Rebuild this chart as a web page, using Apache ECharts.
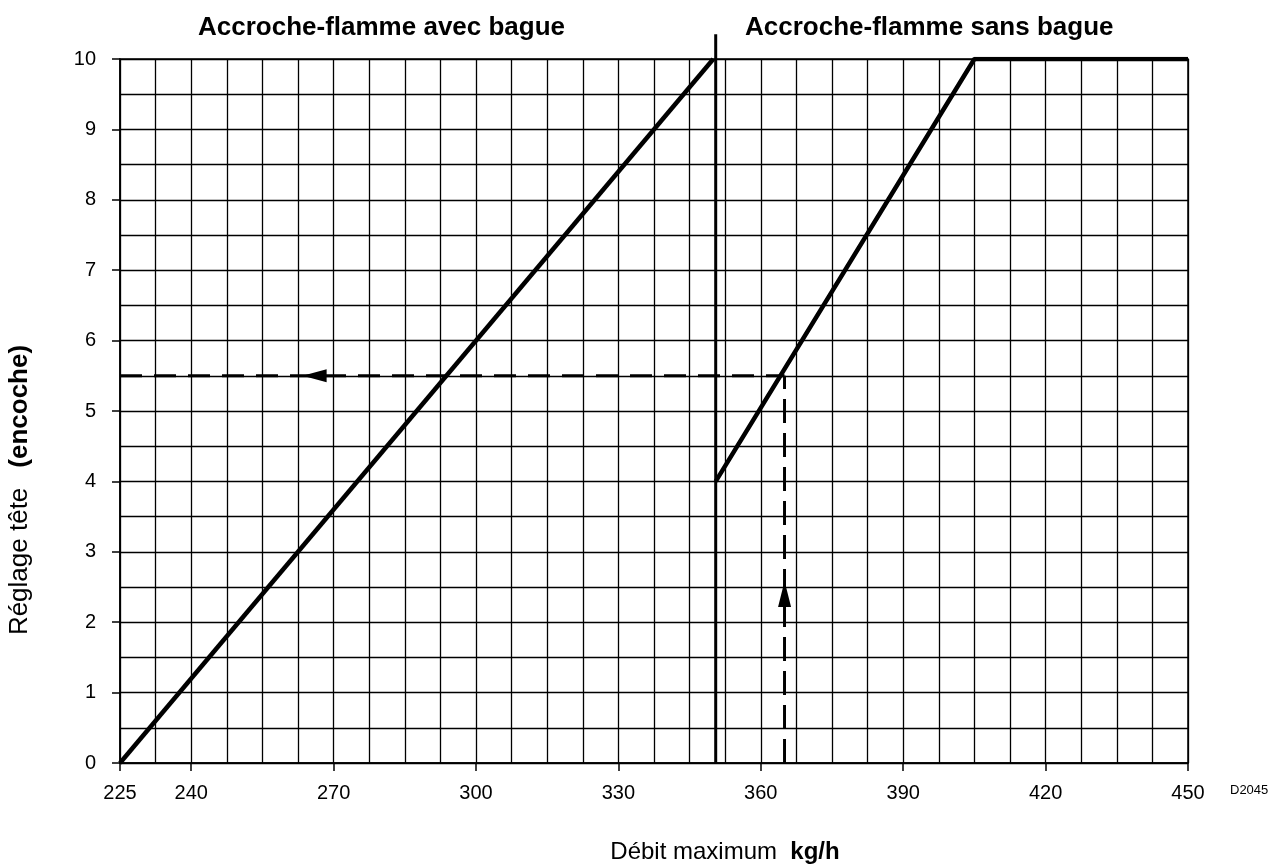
<!DOCTYPE html>
<html>
<head>
<meta charset="utf-8">
<script src="https://cdn.jsdelivr.net/npm/echarts@6/dist/echarts.min.js"></script>
<style>
  html, body { margin: 0; padding: 0; background: #fff; }
  #main { width: 1275px; height: 868px; }
</style>
</head>
<body>
<div id="main"></div>
<script>
var xTicks = [225, 240, 270, 300, 330, 360, 390, 420, 450];
var yTicks = [0, 1, 2, 3, 4, 5, 6, 7, 8, 9, 10];
var avecBague = [[225, 0], [350, 10]];
var sansBague = [[350.5, 4], [405, 10], [450, 10]];
var separateur = [[350.5, 0], [350.5, 10.35]];
var lectureH = [[225, 5.5], [365, 5.5]];
var lectureV = [[365, 0], [365, 5.5]];
var flecheH = [[266, 5.5]];
var flecheV = [[365, 2.4]];

var chart = echarts.init(document.getElementById('main'));

var noir = '#000';
var police = 'Liberation Sans, Arial, sans-serif';

// axe avec graduations + axe invisible pour le quadrillage
var ligneGrille = { show: true, lineStyle: { color: noir, width: 1.3 } };

var option = {
    backgroundColor: '#fff',
    animation: false,
    grid: {
        left: 120, right: 87, top: 59, bottom: 105,
        show: true, borderColor: noir, borderWidth: 1.5
    },
    xAxis: [
        {
            type: 'value', position: 'bottom',
            min: 225, max: 450, interval: 7.5,
            axisLine: { lineStyle: { color: noir, width: 1.5 } },
            axisTick: { customValues: xTicks, length: 8, lineStyle: { color: noir, width: 1.5 } },
            axisLabel: {
                customValues: xTicks, margin: 20, color: noir,
                fontFamily: police, fontSize: 20
            },
            splitLine: { show: false }
        },
        {
            type: 'value', position: 'top',
            min: 225, max: 450, interval: 7.5,
            axisLine: { show: false }, axisTick: { show: false }, axisLabel: { show: false },
            splitLine: ligneGrille
        }
    ],
    yAxis: [
        {
            type: 'value', position: 'left',
            min: 0, max: 10, interval: 0.5,
            axisLine: { show: true, lineStyle: { color: noir, width: 1.5 } },
            axisTick: { show: true, customValues: yTicks, length: 8, lineStyle: { color: noir, width: 1.5 } },
            axisLabel: {
                customValues: yTicks, margin: 24, color: noir,
                fontFamily: police, fontSize: 20
            },
            splitLine: { show: false }
        },
        {
            type: 'value', position: 'right',
            min: 0, max: 10, interval: 0.5,
            axisLine: { show: false }, axisTick: { show: false }, axisLabel: { show: false },
            splitLine: ligneGrille
        }
    ],
    series: [
        {
            name: 'avec bague', type: 'line', data: avecBague,
            symbol: 'none', lineStyle: { color: noir, width: 4.5 }
        },
        {
            name: 'sans bague', type: 'line', data: sansBague,
            symbol: 'none', lineStyle: { color: noir, width: 4.5 }
        },
        {
            name: 'separation', type: 'line', data: separateur, clip: false,
            symbol: 'none', lineStyle: { color: noir, width: 3 }
        },
        {
            name: 'lecture h', type: 'line', data: lectureH,
            symbol: 'none', lineStyle: { color: noir, width: 3, type: [22, 12] }
        },
        {
            name: 'lecture v', type: 'line', data: lectureV,
            symbol: 'none', lineStyle: { color: noir, width: 3, type: [24, 10] }
        },
        {
            name: 'fleche h', type: 'scatter', data: flecheH,
            symbol: 'triangle', symbolSize: [13, 24], symbolRotate: 90,
            itemStyle: { color: noir, opacity: 1 }
        },
        {
            name: 'fleche v', type: 'scatter', data: flecheV,
            symbol: 'triangle', symbolSize: [13, 26],
            itemStyle: { color: noir, opacity: 1 }
        }
    ],
    graphic: [
        {
            type: 'text', left: 198, top: 15,
            style: { text: 'Accroche-flamme avec bague', font: 'bold 26px ' + police, fill: noir }
        },
        {
            type: 'text', left: 745, top: 15,
            style: { text: 'Accroche-flamme sans bague', font: 'bold 26px ' + police, fill: noir }
        },
        {
            type: 'text', x: 20, y: 490, rotation: Math.PI / 2,
            style: {
                text: '{n|Réglage tête}      {b|(encoche)}',
                align: 'center', verticalAlign: 'middle',
                rich: {
                    n: { font: '26px ' + police, fill: noir },
                    b: { font: 'bold 26px ' + police, fill: noir }
                }
            }
        },
        {
            type: 'text', x: 725, y: 852,
            style: {
                text: '{n|Débit maximum}    {b|kg/h}',
                align: 'center', verticalAlign: 'middle',
                rich: {
                    n: { font: '24px ' + police, fill: noir },
                    b: { font: 'bold 24px ' + police, fill: noir }
                }
            }
        },
        {
            type: 'text', left: 1230, top: 784,
            style: { text: 'D2045', font: '13px ' + police, fill: noir }
        }
    ]
};

chart.setOption(option);
</script>
</body>
</html>
